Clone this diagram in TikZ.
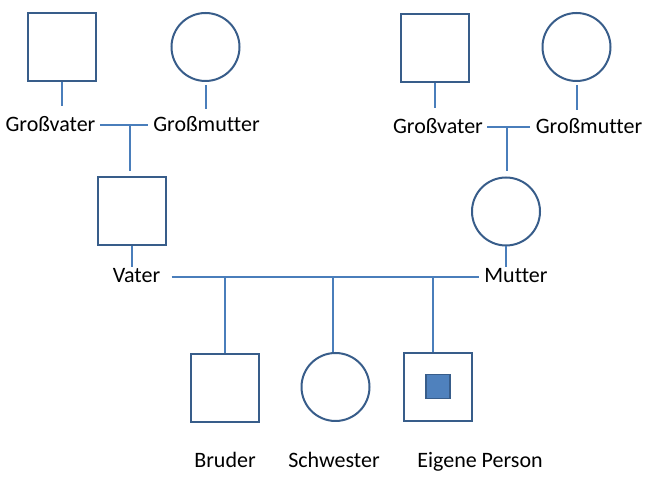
\documentclass[tikz,border=0pt]{standalone}
\usepackage{fontspec}
\setmainfont{Carlito}[Ligatures=NoCommon]
\usetikzlibrary{calc}
\definecolor{shapeblue}{HTML}{385D8A}
\definecolor{lineblue}{HTML}{4A7EBB}
\definecolor{egofill}{HTML}{4F81BD}

\tikzset{
  male/.style={rectangle, draw=shapeblue, line width=1pt, minimum size=34pt, inner sep=0pt},
  female/.style={circle, draw=shapeblue, line width=1pt, minimum size=34pt, inner sep=0pt},
  famlabel/.style={font=\fontsize{11}{13}\selectfont, inner sep=1pt,
    text height=7pt, text depth=0pt, anchor=base},
  link/.style={draw=lineblue, line width=1pt},
}

\begin{document}
\begin{tikzpicture}[x=0.5pt, y=-0.5pt]
  \useasboundingbox (0,0) rectangle (649,485);

  % Grandparents, father's side
  \node[male]   (gvL) at (62,47) {};
  \node[female] (gmL) at (205.5,47) {};
  \node[famlabel] (gvLtxt) at (50.5,132) {Großvater};
  \node[famlabel] (gmLtxt) at (206.5,132) {Großmutter};

  % Grandparents, mother's side
  \node[male]   (gvR) at (435,48) {};
  \node[female] (gmR) at (576.5,47) {};
  \node[famlabel] (gvRtxt) at (438,134) {Großvater};
  \node[famlabel] (gmRtxt) at (589,134) {Großmutter};

  % Parents
  \node[male]   (vater)  at (132,211.5) {};
  \node[female] (mutter) at (506,211.5) {};
  \node[famlabel] (vaterTxt)  at (136.5,283) {Vater};
  \node[famlabel] (mutterTxt) at (516,283) {Mutter};

  % Children
  \node[male]   (bruder)    at (224.5,388.5) {};
  \node[female] (schwester) at (335.5,387) {};
  \node[male]   (ego)       at (438,387.5) {};
  \node[rectangle, draw=shapeblue, fill=egofill, line width=0.75pt,
    minimum size=12pt, inner sep=0pt] (egomark) at (438,386.5) {};
  \node[famlabel] (bruderTxt)    at (225,468) {Bruder};
  \node[famlabel] (schwesterTxt) at (334,468) {Schwester};
  \node[famlabel] (egoTxt)       at (480,468) {Eigene Person};

  % Junction points
  \coordinate (jL) at (129.5,125);
  \coordinate (jR) at (507,127);
  \coordinate (m)  at (0,277);
  \coordinate (c1) at (225,277);
  \coordinate (c2) at (333,277);
  \coordinate (c3) at (433,277);

  % Stems to the labels
  \draw[link, shorten >=5pt] (gvL.south) -- (gvL.south |- gvLtxt.north);
  \draw[link, shorten <=1.5pt, shorten >=3.5pt] (gmL.south) -- (gmL.south |- gmLtxt.north);
  \draw[link, shorten >=5pt] (gvR.south) -- (gvR.south |- gvRtxt.north);
  \draw[link, shorten <=1.5pt, shorten >=4pt] (gmR.south) -- (gmR.south |- gmRtxt.north);
  \draw[link] (vater.south) -- (vater.south |- vaterTxt.north);
  \draw[link] (mutter.south) -- (mutter.south |- mutterTxt.north);

  % Couples
  \draw[link, shorten <=1pt, shorten >=1.5pt] (gvLtxt.east |- jL) -- (gmLtxt.west |- jL);
  \draw[link, shorten <=1pt, shorten >=1.5pt] (gvRtxt.east |- jR) -- (gmRtxt.west |- jR);
  \draw[link, shorten <=4.5pt, shorten >=1.5pt] (vaterTxt.east |- m) -- (mutterTxt.west |- m);

  % Descent lines
  \draw[link, shorten >=2.5pt] (jL) -- (jL |- vater.north);
  \draw[link, shorten >=2.5pt] (jR) -- (jR |- mutter.north);
  \draw[link] (c1) -- (c1 |- bruder.north);
  \draw[link] (c2) -- (c2 |- schwester.north);
  \draw[link] (c3) -- (c3 |- ego.north);
\end{tikzpicture}
\end{document}
